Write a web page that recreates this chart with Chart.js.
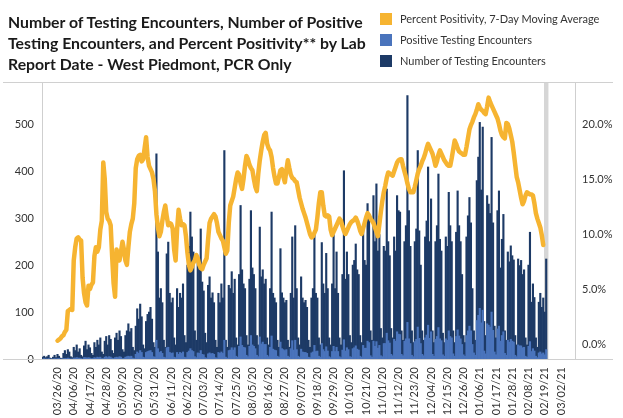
<!DOCTYPE html>
<html>
<head>
<meta charset="utf-8">
<script src="https://cdn.jsdelivr.net/npm/chart.js@4.4.0/dist/chart.umd.min.js"></script>
<style>
  body { margin: 0; background: #fff; }
  #wrap { position: relative; width: 623px; height: 418px; overflow: hidden; }
  #chart { position: absolute; left: 0; top: 0; }
  .title {
    position: absolute; left: 8px; top: 11px;
    font: bold 15.8px Lato, sans-serif; line-height: 21px; color: #1a1a1a;
  }
  .legend { position: absolute; left: 380px; top: 8px; font: 11px Lato, sans-serif; color: #333; }
  .legend div { height: 21px; display: flex; align-items: center; }
  .legend span.sw { display: inline-block; width: 12px; height: 12px; margin-right: 8px; }
</style>
</head>
<body>
<div id="wrap">
  <canvas id="chart"></canvas>
  <div class="title">Number of Testing Encounters, Number of Positive<br>Testing Encounters, and Percent Positivity** by Lab<br>Report Date - West Piedmont, PCR Only</div>
  <div class="legend">
    <div><span class="sw" style="background:#F6B431"></span>Percent Positivity, 7-Day Moving Average</div>
    <div><span class="sw" style="background:#4A74BC"></span>Positive Testing Encounters</div>
    <div><span class="sw" style="background:#1D3A66"></span>Number of Testing Encounters</div>
  </div>
</div>
<script>
// daily lab report dates, 03/16/20 (Mon) onward; axis runs a little past the data
const firstDay = [2020, 2, 16];
const axisDays = 361;

// tick labels shown on the x axis (every 11th day)
const tickLabels = ['03/26/20', '04/06/20', '04/17/20', '04/28/20', '05/09/20', '05/20/20', '05/31/20',
  '06/11/20', '06/22/20', '07/03/20', '07/14/20', '07/25/20', '08/05/20', '08/16/20', '08/27/20',
  '09/07/20', '09/18/20', '09/29/20', '10/10/20', '10/21/20', '11/01/20', '11/12/20', '11/23/20',
  '12/04/20', '12/15/20', '12/26/20', '01/06/21', '01/17/21', '01/28/21', '02/08/21', '02/19/21', '03/02/21'];

const countTicks = [0, 100, 200, 300, 400, 500];
const pctTicks = [0, 5, 10, 15, 20];

// grey band for the most recent (incomplete) report days
const shadedDays = ['02/19/21', '02/21/21'];

// Number of Testing Encounters, one row per week (Mon..Sun)
const tests = [
  4, 6, 3, 5, 8, 2, 1,
  4, 8, 3, 10, 6, 2, 1,
  12, 18, 10, 20, 15, 5, 3,
  25, 18, 30, 15, 22, 8, 5,
  28, 38, 20, 30, 24, 12, 8,
  35, 25, 40, 30, 45, 15, 10,
  38, 48, 30, 50, 42, 18, 12,
  45, 55, 40, 60, 48, 20, 15,
  50, 60, 75, 58, 65, 25, 18,
  70, 107, 85, 117, 90, 30, 22,
  80, 95, 100, 110, 85, 35, 25,
  437, 228, 130, 150, 120, 40, 25,
  224, 249, 140, 120, 130, 45, 30,
  150, 110, 140, 130, 160, 50, 35,
  200, 240, 313, 260, 228, 60, 40,
  210, 190, 277, 164, 145, 55, 35,
  157, 175, 130, 141, 120, 40, 25,
  140, 120, 160, 130, 444, 40, 25,
  157, 150, 186, 140, 170, 45, 30,
  180, 327, 190, 160, 150, 50, 30,
  170, 316, 194, 180, 150, 50, 30,
  281, 175, 190, 160, 170, 45, 30,
  150, 313, 140, 130, 120, 40, 25,
  235, 141, 130, 120, 125, 40, 25,
  140, 260, 130, 284, 150, 45, 30,
  175, 130, 120, 125, 110, 40, 25,
  130, 150, 270, 140, 130, 45, 30,
  248, 160, 140, 225, 150, 45, 30,
  160, 265, 150, 228, 140, 45, 30,
  180, 401, 170, 228, 180, 50, 35,
  200, 210, 245, 190, 180, 50, 35,
  277, 210, 200, 331, 308, 60, 40,
  348, 250, 373, 230, 265, 65, 45,
  240, 230, 362, 250, 220, 65, 45,
  260, 230, 348, 316, 313, 60, 40,
  250, 284, 561, 316, 240, 60, 35,
  250, 277, 444, 273, 200, 60, 40,
  260, 294, 409, 250, 341, 60, 35,
  250, 284, 394, 255, 230, 55, 35,
  260, 240, 355, 284, 250, 60, 35,
  270, 358, 284, 250, 180, 50, 35,
  260, 305, 344, 290, 150, 60, 40,
  380, 430, 504, 360, 494, 80, 50,
  348, 330, 310, 472, 290, 70, 45,
  316, 358, 194, 255, 308, 60, 40,
  228, 207, 241, 220, 211, 50, 30,
  213, 199, 210, 180, 190, 45, 30,
  200, 270, 121, 160, 131, 45, 25,
  121, 140, 110, 130, 100, 213
];

// Positive Testing Encounters, same days
const positives = [
  0, 1, 0, 0, 1, 0, 0,
  0, 1, 0, 1, 1, 0, 0,
  1, 1, 1, 2, 1, 0, 0,
  2, 2, 3, 2, 2, 1, 0,
  3, 3, 2, 3, 2, 1, 1,
  3, 2, 4, 3, 4, 1, 1,
  4, 5, 3, 5, 4, 2, 1,
  3, 4, 3, 5, 4, 1, 1,
  4, 5, 6, 5, 6, 2, 1,
  10, 15, 12, 18, 14, 4, 3,
  14, 16, 17, 18, 14, 5, 4,
  40, 22, 14, 16, 12, 4, 3,
  24, 25, 14, 12, 13, 4, 3,
  14, 10, 14, 12, 15, 4, 3,
  14, 17, 22, 18, 16, 5, 3,
  13, 12, 18, 10, 9, 3, 2,
  11, 13, 11, 12, 10, 3, 2,
  14, 12, 15, 12, 40, 4, 2,
  18, 19, 24, 19, 24, 6, 4,
  27, 47, 29, 25, 24, 8, 5,
  27, 50, 30, 27, 22, 8, 5,
  47, 32, 36, 31, 31, 8, 5,
  25, 49, 21, 19, 18, 6, 4,
  36, 22, 20, 18, 20, 6, 4,
  22, 39, 19, 40, 20, 6, 4,
  21, 15, 14, 14, 12, 4, 3,
  13, 15, 29, 16, 17, 6, 4,
  33, 20, 16, 26, 17, 5, 3,
  16, 27, 16, 25, 16, 5, 3,
  19, 41, 17, 24, 20, 5, 4,
  22, 24, 28, 21, 19, 6, 4,
  29, 23, 23, 38, 35, 7, 4,
  38, 27, 37, 23, 29, 7, 5,
  33, 33, 55, 39, 34, 10, 7,
  42, 38, 58, 53, 52, 10, 7,
  38, 43, 78, 43, 33, 8, 5,
  37, 42, 68, 44, 33, 10, 7,
  45, 51, 72, 44, 58, 10, 6,
  42, 48, 67, 43, 39, 9, 6,
  43, 40, 60, 48, 45, 11, 6,
  48, 62, 49, 43, 31, 9, 6,
  50, 60, 70, 60, 31, 13, 8,
  82, 93, 108, 77, 104, 17, 11,
  75, 72, 68, 100, 61, 15, 9,
  64, 70, 38, 50, 58, 12, 8,
  40, 36, 42, 38, 36, 8, 5,
  30, 28, 28, 24, 25, 6, 4,
  27, 37, 16, 22, 17, 6, 3,
  13, 15, 11, 13, 9, 20
];

// Percent positivity, 7-day moving average (%), starting 03/26/20
const positivityStart = '03/26/20';
const positivity = [
  0.3, 0.4, 0.5, 0.7, 0.8, 1.1, 1.3, 3.0, 3.1, 3.2,
  3.1, 7.6, 8.8, 9.6, 9.7, 9.5, 9.4, 6.0, 4.6, 3.8,
  3.5, 5.3, 5.0, 5.4, 5.6, 8.0, 8.8, 8.4, 8.8, 10.4,
  11.2, 16.5, 15.0, 12.0, 11.4, 11.2, 10.8, 8.0, 5.5, 4.3,
  8.6, 8.0, 7.6, 8.4, 9.3, 8.6, 7.6, 7.2, 8.8, 10.2,
  10.9, 11.4, 12.8, 16.0, 16.8, 17.1, 17.2, 16.6, 16.8, 17.8,
  18.8, 17.0, 16.2, 15.9, 15.6, 15.0, 13.9, 11.8, 10.6, 9.8,
  10.2, 11.2, 12.0, 12.6, 11.6, 10.8, 11.0, 10.9, 10.5, 8.6,
  7.6, 10.4, 12.2, 11.4, 10.8, 10.9, 10.8, 9.8, 8.3, 7.2,
  6.7, 7.0, 7.4, 7.6, 8.1, 7.8, 7.2, 6.9, 6.8, 7.2,
  7.5, 7.8, 9.5, 11.0, 11.4, 11.6, 11.8, 11.6, 11.0, 10.2,
  9.9, 9.6, 9.4, 8.8, 8.2, 8.5, 11.0, 12.6, 13.0, 13.4,
  14.2, 15.0, 15.6, 15.4, 14.6, 14.1, 15.0, 16.2, 17.1, 16.8,
  16.3, 16.0, 15.8, 15.0, 14.3, 13.9, 15.5, 16.7, 17.6, 18.4,
  19.0, 19.2, 18.2, 17.8, 17.6, 17.0, 16.0, 15.2, 14.6, 14.6,
  15.2, 15.8, 15.9, 15.2, 14.7, 15.8, 16.7, 16.0, 15.4, 15.1,
  15.0, 14.8, 14.7, 14.0, 13.3, 12.8, 12.3, 11.9, 11.5, 11.0,
  10.5, 10.0, 9.7, 9.8, 10.1, 10.4, 11.5, 12.8, 13.8, 13.8,
  12.6, 11.7, 11.6, 11.7, 11.6, 10.4, 9.9, 10.2, 10.5, 10.8,
  11.1, 11.4, 11.2, 10.7, 10.3, 10.0, 10.3, 10.6, 10.9, 11.1,
  11.2, 11.3, 11.5, 11.2, 10.8, 10.3, 10.0, 10.5, 11.0, 11.5,
  11.9, 11.7, 11.4, 11.2, 11.0, 10.6, 10.2, 9.8, 10.9, 12.0,
  13.0, 13.8, 14.4, 15.1, 15.6, 15.5, 15.4, 15.3, 15.7, 16.1,
  16.5, 16.7, 16.8, 16.8, 16.2, 15.7, 15.2, 14.6, 14.1, 13.8,
  13.8, 13.8, 14.3, 14.9, 15.5, 15.9, 16.2, 16.6, 16.9, 17.3,
  17.8, 18.2, 17.9, 17.6, 17.3, 16.8, 16.2, 16.6, 17.2, 17.6,
  17.3, 17.0, 16.7, 16.5, 16.3, 16.2, 16.2, 16.9, 17.7, 18.5,
  18.2, 17.8, 17.5, 17.4, 17.3, 17.2, 17.2, 17.9, 18.7, 19.5,
  19.9, 20.2, 20.6, 20.9, 21.3, 21.8, 21.5, 21.3, 21.2, 21.0,
  20.9, 21.6, 22.4, 22.0, 21.7, 21.4, 21.1, 20.8, 20.5, 20.0,
  19.4, 19.0, 18.8, 18.7, 20.1, 20.0, 19.6, 19.0, 18.4, 17.4,
  16.3, 15.2, 14.7, 14.0, 13.3, 12.7, 13.0, 13.5, 13.8, 13.7,
  13.6, 13.6, 13.5, 12.8, 11.9, 11.4, 11.0, 10.6, 9.9, 9.0
];

const pad = n => String(n).padStart(2, '0');
const days = [];
for (let i = 0; i < axisDays; i++) {
  const d = new Date(firstDay[0], firstDay[1], firstDay[2] + i);
  days.push(pad(d.getMonth() + 1) + '/' + pad(d.getDate()) + '/' + String(d.getFullYear()).slice(2));
}
const lineData = new Array(days.indexOf(positivityStart)).fill(null).concat(positivity);

const axisFont = { family: 'Lato, sans-serif', size: 11 };

// light frame lines and the shaded band
const framePlugin = {
  id: 'frame',
  beforeDatasetsDraw(chart) {
    const { ctx, chartArea, scales } = chart;
    const w = scales.x.width / days.length;
    const x0 = scales.x.getPixelForValue(days.indexOf(shadedDays[0])) - w / 2;
    const x1 = scales.x.getPixelForValue(days.indexOf(shadedDays[1])) + w / 2;
    ctx.save();
    ctx.fillStyle = '#d6d6d6';
    ctx.fillRect(x0, chartArea.top, x1 - x0, chartArea.bottom - chartArea.top);
    ctx.restore();
  },
  afterDraw(chart) {
    const { ctx, chartArea } = chart;
    ctx.save();
    ctx.strokeStyle = '#d0d0d0';
    ctx.lineWidth = 1;
    ctx.beginPath();
    ctx.moveTo(3, chartArea.top + 0.5);
    ctx.lineTo(613, chartArea.top + 0.5);
    ctx.moveTo(3, chartArea.bottom + 0.5);
    ctx.lineTo(613, chartArea.bottom + 0.5);
    ctx.stroke();
    ctx.restore();
  }
};

new Chart(document.getElementById('chart'), {
  data: {
    labels: days,
    datasets: [{
      type: 'line',
      label: 'Percent Positivity, 7-Day Moving Average',
      data: lineData,
      yAxisID: 'y1',
      borderColor: '#F6B431',
      borderWidth: 4.5,
      borderJoinStyle: 'round',
      borderCapStyle: 'round',
      pointRadius: 0,
      tension: 0,
      order: 0
    }, {
      type: 'bar',
      label: 'Positive Testing Encounters',
      data: positives,
      yAxisID: 'y',
      backgroundColor: '#4A74BC',
      grouped: false,
      barPercentage: 1,
      categoryPercentage: 1,
      order: 1
    }, {
      type: 'bar',
      label: 'Number of Testing Encounters',
      data: tests,
      yAxisID: 'y',
      backgroundColor: '#1D3A66',
      grouped: false,
      barPercentage: 1,
      categoryPercentage: 1,
      order: 2
    }]
  },
  options: {
    responsive: true,
    maintainAspectRatio: false,
    animation: false,
    layout: { padding: { top: 82 } },
    plugins: { legend: { display: false }, tooltip: { enabled: false } },
    scales: {
      x: {
        type: 'category',
        offset: true,
        grid: { display: false, drawTicks: false },
        border: { display: false },
        ticks: {
          autoSkip: false, minRotation: 90, maxRotation: 90, padding: 8,
          font: axisFont, color: '#333',
          callback: function (v) {
            const l = this.getLabelForValue(v);
            return tickLabels.includes(l) ? l : null;
          }
        },
        afterFit: s => { s.height = 59; }
      },
      y: {
        position: 'left',
        min: 0, max: 590,
        afterBuildTicks: s => { s.ticks = countTicks.map(v => ({ value: v })); },
        grid: { display: false, drawTicks: false },
        border: { display: true, color: '#cfcfcf' },
        ticks: { padding: 8, font: axisFont, color: '#333' },
        afterFit: s => { s.width = 42; }
      },
      y1: {
        position: 'right',
        min: -1.36, max: 23.82,
        afterBuildTicks: s => { s.ticks = pctTicks.map(v => ({ value: v })); },
        grid: { display: false, drawTicks: false },
        border: { display: true, color: '#cfcfcf' },
        ticks: { padding: 7, font: axisFont, color: '#333', callback: v => v.toFixed(1) + '%' },
        afterFit: s => { s.width = 48; }
      }
    }
  },
  plugins: [framePlugin]
});
</script>
</body>
</html>
